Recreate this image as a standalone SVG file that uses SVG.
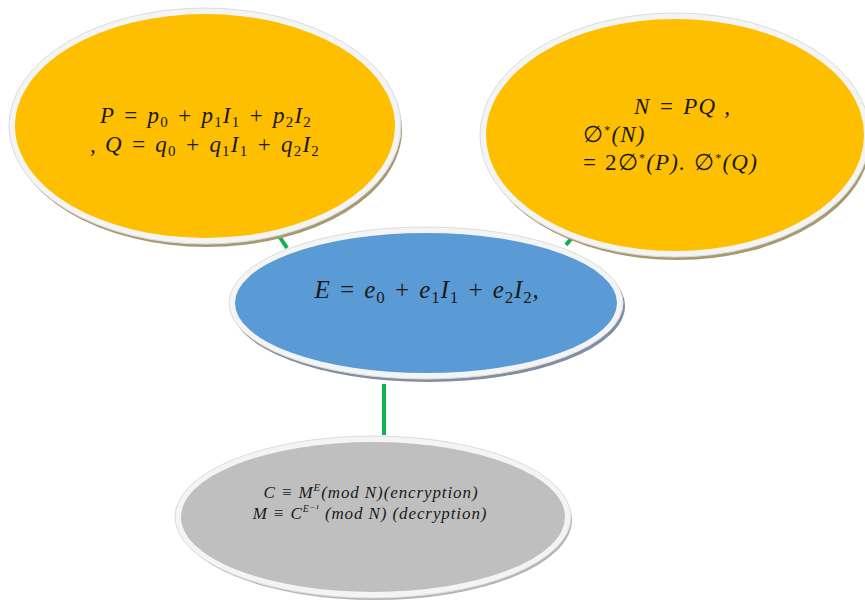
<svg xmlns="http://www.w3.org/2000/svg" width="865" height="600" viewBox="0 0 865 600">
<style>
.rim{fill:#f4f4f4;stroke:#dcdcdc;stroke-width:1}
.t{font-family:"Liberation Serif","DejaVu Serif",serif;font-style:italic;fill:#1a1a1a}
.big{font-size:23px;letter-spacing:1.2px;word-spacing:1px}
.sm{font-size:17px;letter-spacing:0.9px}
.n{font-style:normal}
.conn{stroke:#10b050;stroke-width:4;fill:none}
</style>
<rect width="865" height="600" fill="#ffffff"/>
<g id="connectors">
<line class="conn" x1="279" y1="236" x2="287" y2="248"/>
<line class="conn" x1="566" y1="245" x2="575" y2="234"/>
<line class="conn" x1="384" y1="384" x2="384" y2="435"/>
</g>
<g id="node-pq">
<ellipse cx="207" cy="130" rx="195" ry="117" fill="#a89a70"/>
<ellipse class="rim" cx="205" cy="126" rx="196" ry="118"/>
<ellipse cx="205" cy="126" rx="190" ry="112" fill="#fdbf00"/>
<text class="t big" text-anchor="middle" x="206" y="123">P = p<tspan class="n" font-size="15" dy="4">0</tspan><tspan dy="-4"> + p</tspan><tspan class="n" font-size="15" dy="4">1</tspan><tspan dy="-4">I</tspan><tspan class="n" font-size="15" dy="4">1</tspan><tspan dy="-4"> + p</tspan><tspan class="n" font-size="15" dy="4">2</tspan><tspan dy="-4">I</tspan><tspan class="n" font-size="15" dy="4">2</tspan></text>
<text class="t big" text-anchor="middle" x="205" y="152">, Q = q<tspan class="n" font-size="15" dy="4">0</tspan><tspan dy="-4"> + q</tspan><tspan class="n" font-size="15" dy="4">1</tspan><tspan dy="-4">I</tspan><tspan class="n" font-size="15" dy="4">1</tspan><tspan dy="-4"> + q</tspan><tspan class="n" font-size="15" dy="4">2</tspan><tspan dy="-4">I</tspan><tspan class="n" font-size="15" dy="4">2</tspan></text>
</g>
<g id="node-n">
<ellipse cx="677" cy="139" rx="194" ry="121" fill="#a89a70"/>
<ellipse class="rim" cx="675" cy="135" rx="195" ry="122"/>
<ellipse cx="675" cy="135" rx="189" ry="116" fill="#fdbf00"/>
<text class="t big" x="634" y="114" word-spacing="5">N = PQ ,</text>
<text class="t big" x="583" y="142"><tspan class="n">∅</tspan><tspan class="n" font-size="12" dy="-8">*</tspan><tspan dy="8">(N)</tspan></text>
<text class="t big" x="583" y="170" word-spacing="3"><tspan class="n">= 2∅</tspan><tspan class="n" font-size="12" dy="-8">*</tspan><tspan dy="8">(P). </tspan><tspan class="n">∅</tspan><tspan class="n" font-size="12" dy="-8">*</tspan><tspan dy="8">(Q)</tspan></text>
</g>
<g id="node-e">
<ellipse cx="428" cy="306" rx="197" ry="76" fill="#7f8ea0"/>
<ellipse class="rim" cx="426" cy="303" rx="197" ry="76"/>
<ellipse cx="426" cy="303" rx="191" ry="70" fill="#5b9bd5"/>
<text class="t" font-size="25" letter-spacing="0.8" word-spacing="1" text-anchor="middle" x="427" y="298">E = e<tspan class="n" font-size="17" dy="5">0</tspan><tspan dy="-5"> + e</tspan><tspan class="n" font-size="17" dy="5">1</tspan><tspan dy="-5">I</tspan><tspan class="n" font-size="17" dy="5">1</tspan><tspan dy="-5"> + e</tspan><tspan class="n" font-size="17" dy="5">2</tspan><tspan dy="-5">I</tspan><tspan class="n" font-size="17" dy="5">2</tspan><tspan dy="-5">,</tspan></text>
</g>
<g id="node-c">
<ellipse cx="375" cy="520" rx="197" ry="80" fill="#b4b4b4"/>
<ellipse class="rim" cx="373" cy="517" rx="198" ry="81"/>
<ellipse cx="373" cy="517" rx="192" ry="75" fill="#bfbfbf"/>
<text class="t sm" text-anchor="middle" x="371" y="498">C ≡ M<tspan font-size="11" dy="-7">E</tspan><tspan dy="7">(mod N)(encryption)</tspan></text>
<text class="t sm" font-size="16" text-anchor="middle" x="370" y="519">M ≡ C<tspan font-size="10" dy="-7">E⁻¹</tspan><tspan dy="7"> (mod N) (decryption)</tspan></text>
</g>
</svg>
